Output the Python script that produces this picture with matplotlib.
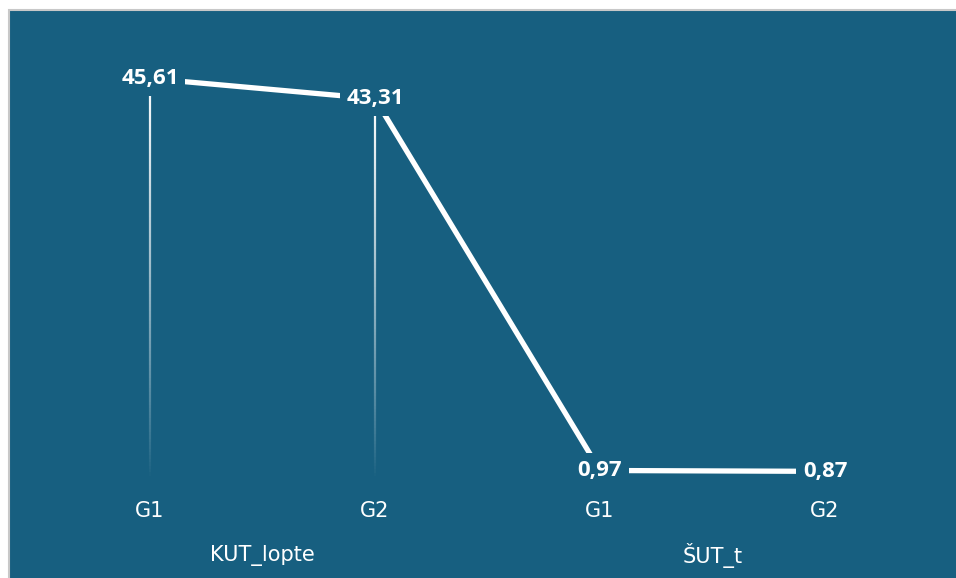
import numpy as np
import matplotlib
matplotlib.use("Agg")
from matplotlib import pyplot as plt
from matplotlib.collections import LineCollection
from matplotlib.patches import Rectangle

groups = ["KUT_lopte", "ŠUT_t"]
tick_labels = ["G1", "G2", "G1", "G2"]
values = [45.61, 43.31, 0.97, 0.87]
value_labels = ["45,61", "43,31", "0,97", "0,87"]

BG = "#175F80"

plt.rcParams['font.family'] = ['Open Sans', 'DejaVu Sans']

fig = plt.figure(figsize=(9.56, 5.78), dpi=100)
fig.patch.set_facecolor("white")
# teal panel with a thin grey border on top / left
fig.patches.append(Rectangle((9 / 956, -0.05), 1.1, 1 - 10 / 578 + 0.05,
                             transform=fig.transFigure, facecolor=BG,
                             edgecolor="#c8c8c8", linewidth=1.5, zorder=-5))

ax = fig.add_axes([40 / 956, 99 / 578, 900 / 956, 439 / 578])
ax.set_zorder(2)
ax.set_facecolor("none")
x = np.arange(len(values))
ax.set_xlim(-110 / 225, 3 + 115 / 225)
ax.set_ylim(0, 50)
for s in ax.spines.values():
    s.set_visible(False)
ax.set_xticks([])
ax.set_yticks([])

# fading drop lines
for xi, v in zip(x, values):
    ys = np.linspace(0, v, 120)
    segs = [[(xi, ys[k]), (xi, ys[k + 1])] for k in range(len(ys) - 1)]
    alphas = np.linspace(0, 1, len(segs)) ** 0.85
    cols = [(1, 1, 1, a) for a in alphas]
    ax.add_collection(LineCollection(segs, colors=cols, linewidths=1.6, zorder=1))

ax.plot(x, values, color="white", linewidth=3.8, solid_capstyle="butt", zorder=2)

for xi, v, lab in zip(x, values, value_labels):
    ax.text(xi, v, lab, ha="center", va="center", color="white",
            fontsize=16, fontweight="bold", zorder=3,
            bbox=dict(boxstyle="square,pad=0.3", facecolor=BG, edgecolor="none"))

for xi, t in zip(x, tick_labels):
    ax.annotate(t, (xi, 0), xycoords="data", xytext=(0, -32), textcoords="offset pixels",
                ha="center", va="center", color="white", fontsize=15,
                family="DejaVu Sans", annotation_clip=False)

for gi, g in enumerate(groups):
    ax.annotate(g, (gi * 2 + 0.5, 0), xycoords="data", xytext=(0, -77),
                textcoords="offset pixels", ha="center", va="center",
                color="white", fontsize=15, family="DejaVu Sans",
                annotation_clip=False)

fig.savefig("out.png", dpi=100)
